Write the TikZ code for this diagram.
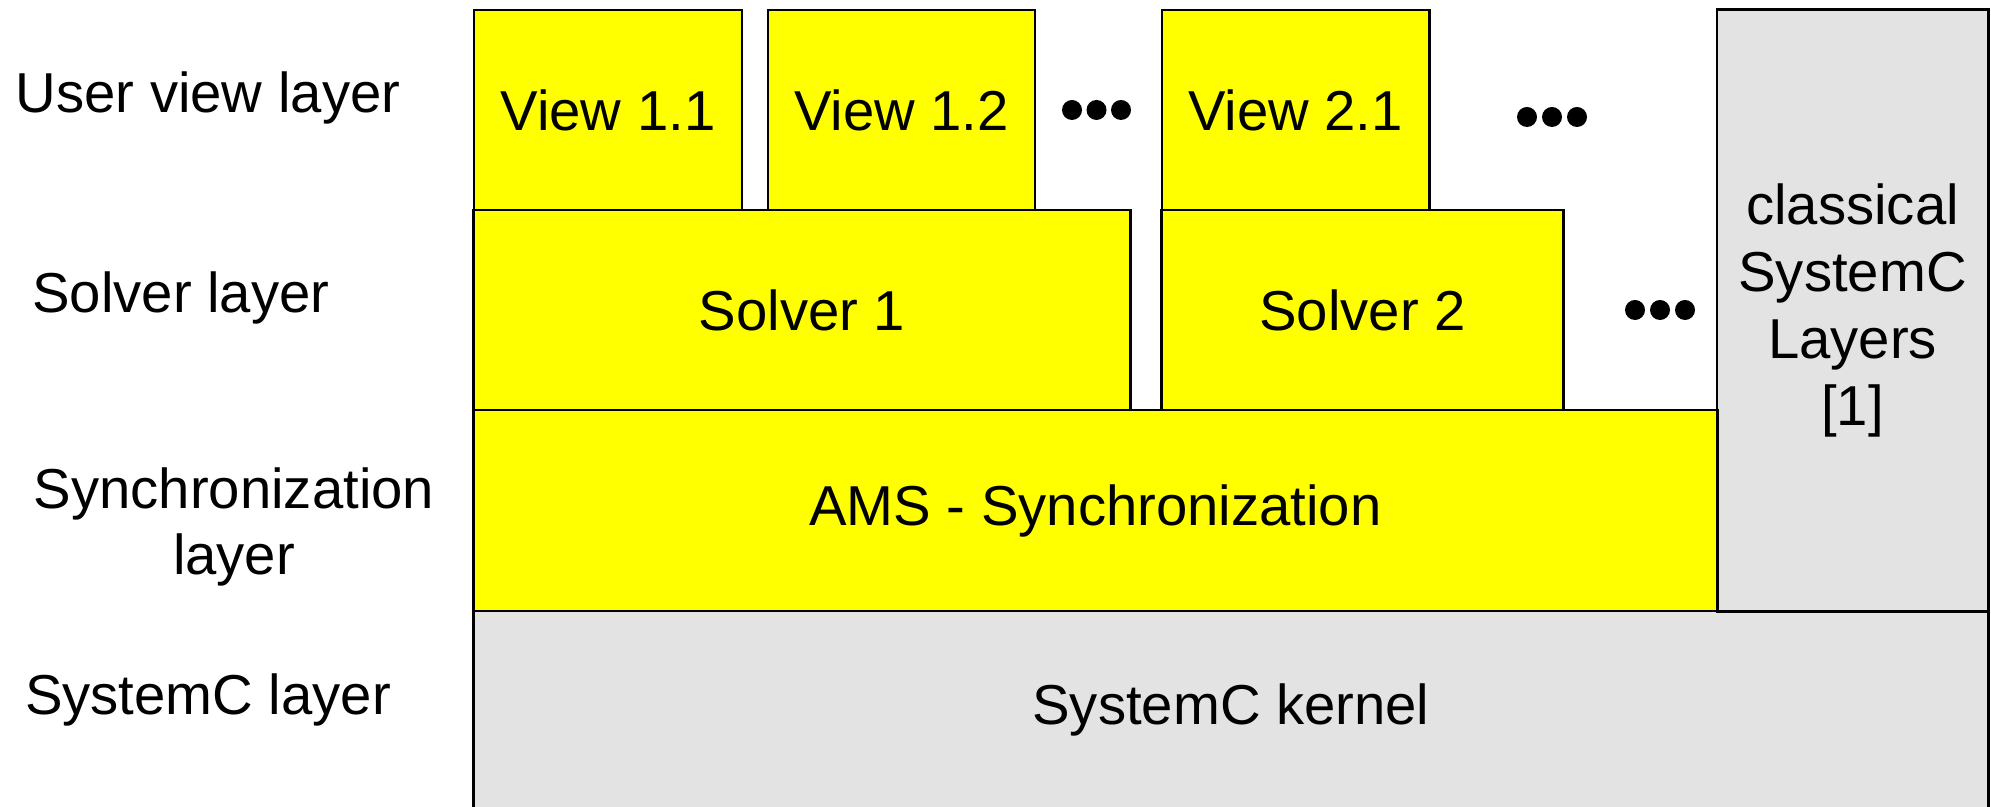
\documentclass[tikz,border=0pt]{standalone}
\usepackage{fontspec}
\setmainfont{Liberation Sans}
\definecolor{boxyellow}{RGB}{255,255,0}
\definecolor{boxgray}{RGB}{227,227,227}
\begin{document}
\begin{tikzpicture}[x=0.01cm,y=-0.01cm,
  every node/.style={font=\fontsize{16}{19}\selectfont, inner sep=0pt},
  ybox/.style={draw=black, line width=0.8pt, fill=boxyellow},
  gbox/.style={draw=black, line width=0.8pt, fill=boxgray},
  lbl/.style={anchor=base},
  dotmark/.style={fill=black}]
\useasboundingbox (0,0) rectangle (1991,807);
% base layers
\node[gbox, minimum width=15.14cm, minimum height=1.98cm] (ker) at (1231,710) {SystemC kernel};
\node[gbox, minimum width=2.71cm, minimum height=6.01cm, align=center] (cls) at (1852.5,310.5) {classical\\SystemC\\Layers\\{[1]}};
\node[ybox, minimum width=12.43cm, minimum height=2.01cm] (ams) at (1095.5,510.5) {AMS - Synchronization};
% solvers
\node[ybox, minimum width=6.56cm, minimum height=2.00cm] (s1) at (802,310) {Solver 1};
\node[ybox, minimum width=4.01cm, minimum height=2.00cm] (s2) at (1362.5,310) {Solver 2};
% views
\node[ybox, minimum width=2.68cm, minimum height=2.00cm] (v11) at (608,110) {View 1.1};
\node[ybox, minimum width=2.67cm, minimum height=2.00cm] (v12) at (901.5,110) {View 1.2};
\node[ybox, minimum width=2.67cm, minimum height=2.00cm] (v21) at (1295.5,110) {View 2.1};
% dots
\foreach \x in {1072,1096.5,1121} \fill[dotmark] (\x,110) circle[radius=0.1cm];
\foreach \x in {1527,1552,1577} \fill[dotmark] (\x,117) circle[radius=0.1cm];
\foreach \x in {1635,1660,1685} \fill[dotmark] (\x,310) circle[radius=0.1cm];
% layer labels
\node[lbl] (luser) at (208,113) {User view layer};
\node[lbl] (lsolver) at (181,313) {Solver layer};
\node[align=center] (lsync) at (234,527) {Synchronization\\layer};
\node[lbl] (lsysc) at (208,715) {SystemC layer};
\end{tikzpicture}
\end{document}
